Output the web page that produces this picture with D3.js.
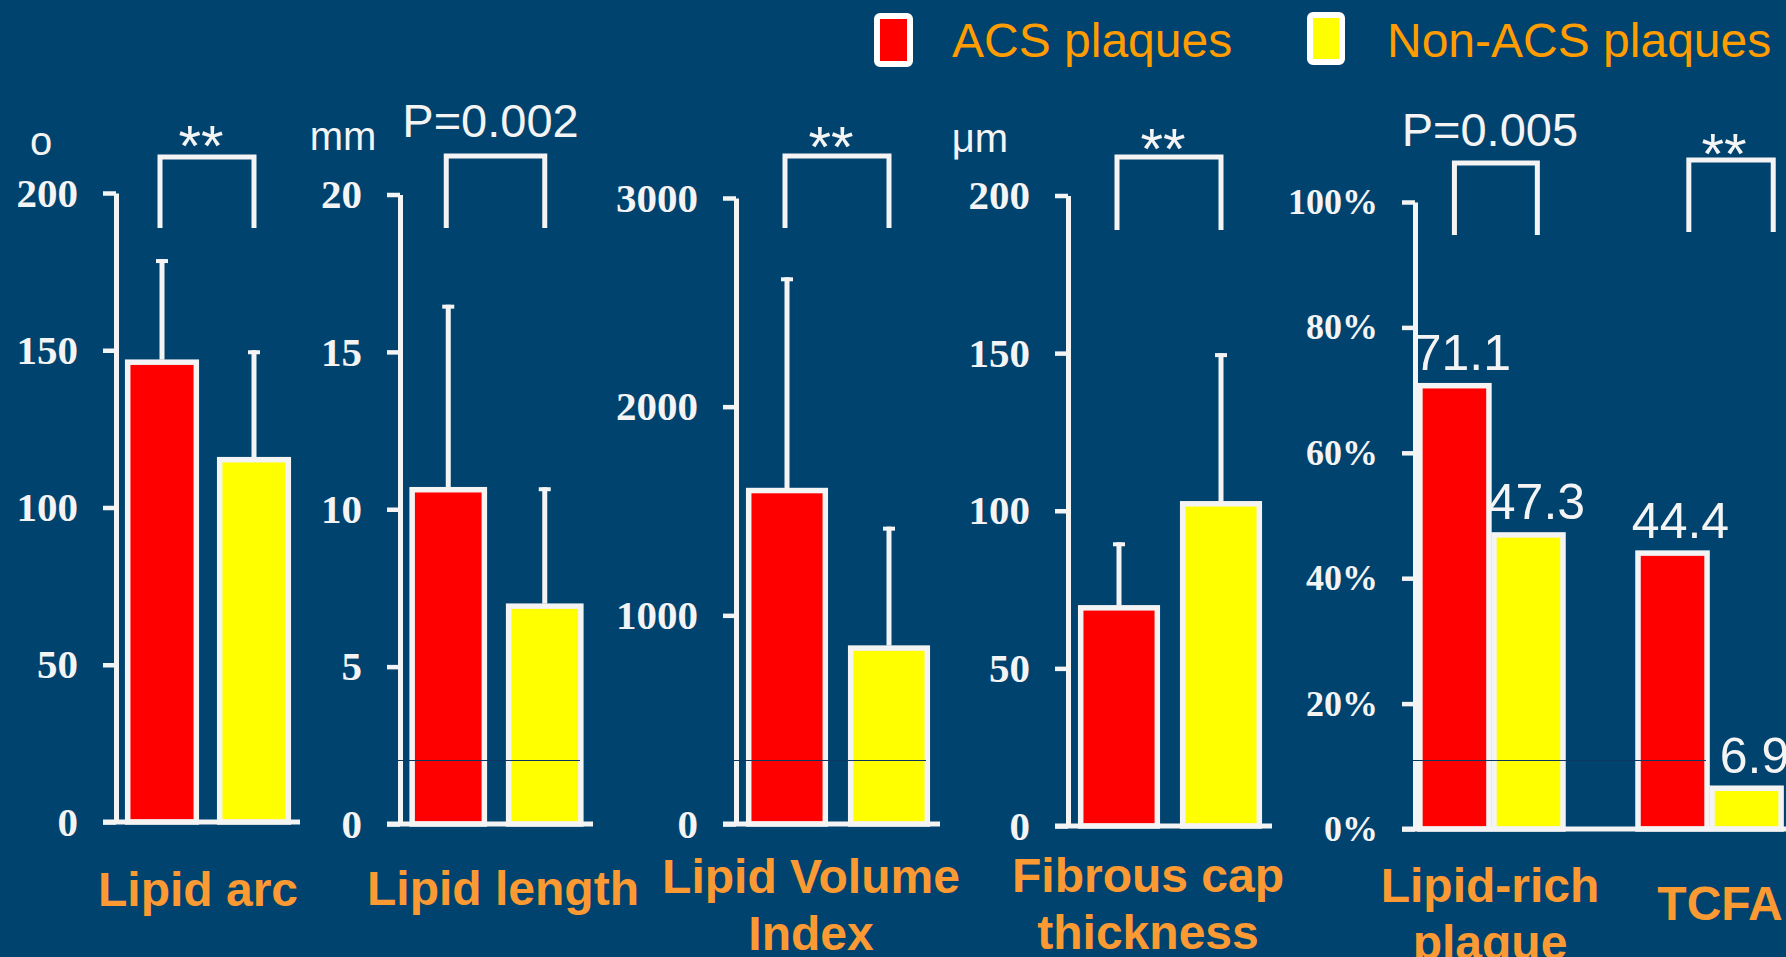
<!DOCTYPE html>
<html>
<head>
<meta charset="utf-8">
<script src="https://cdn.jsdelivr.net/npm/d3@7"></script>
<style>
    html, body { margin: 0; padding: 0; background: #01436f; }
    svg { display: block; }
</style>
</head>
<body>
<svg id="chart" width="1786" height="957"></svg>
<script>
// series and categories
var seriesNames = ['ACS plaques', 'Non-ACS plaques'];
var seriesColors = ['#ff0000', '#ffff00'];

// four continuous measures (mean bars with upper error bar)
var measureLabels = [['Lipid arc'], ['Lipid length'], ['Lipid Volume', 'Index'], ['Fibrous cap', 'thickness']];
var measureUnits = ['o', 'mm', '', 'μm'];
var acsMean = [147, 10.7, 1610, 70];
var acsUpper = [179, 16.5, 2620, 90];
var nonAcsMean = [116, 7.0, 855, 103];
var nonAcsUpper = [150, 10.7, 1425, 150];
var measureMax = [200, 20, 3000, 200];
var measureTicks = [[0, 50, 100, 150, 200], [0, 5, 10, 15, 20], [0, 1000, 2000, 3000], [0, 50, 100, 150, 200]];
var measureSig = ['**', 'P=0.002', '**', '**'];

// prevalence panel (%)
var pctLabels = [['Lipid-rich', 'plaque'], ['TCFA']];
var pctAcs = [71.1, 44.4];
var pctNonAcs = [47.3, 6.9];
var pctTicks = [0, 20, 40, 60, 80, 100];
var pctSig = ['P=0.005', '**'];

var white = '#f4f4f4';
var orange = '#fb9a33';
var sans = '"Liberation Sans", Arial, sans-serif';
var serif = '"Liberation Serif", "Times New Roman", serif';

var svg = d3.select('#chart');

svg.append('rect')
    .attr('width', 1786)
    .attr('height', 957)
    .attr('fill', '#01436f');

// layout of each small panel
var layout = [
    { x0: 116, x1: 300, top: 193, bottom: 822, brTop: 157, brBot: 228, sigY: 166, ux: 41, uy: 155, lx: 198, ly: 906 },
    { x0: 400, x1: 593, top: 194.5, bottom: 824, brTop: 156, brBot: 228, sigY: 137, ux: 343, uy: 150, lx: 503, ly: 905 },
    { x0: 736, x1: 940, top: 198, bottom: 824, brTop: 156, brBot: 228, sigY: 167, ux: 0, uy: 0, lx: 811, ly: 893 },
    { x0: 1068, x1: 1272, top: 195.5, bottom: 826, brTop: 157, brBot: 230, sigY: 169, ux: 980, uy: 152, lx: 1148, ly: 892 }
];

function styleAxis(g, fontSize) {
    g.select('.domain').attr('stroke', white).attr('stroke-width', 5);
    g.selectAll('.tick line').attr('stroke', white).attr('stroke-width', 4.5);
    g.selectAll('.tick text')
        .attr('fill', white)
        .attr('font-family', serif)
        .attr('font-weight', 'bold')
        .attr('font-size', fontSize + 'px');
}

function drawBracket(xl, xr, top, bot) {
    svg.append('path')
        .attr('d', 'M' + xl + ',' + bot + 'V' + top + 'H' + xr + 'V' + bot)
        .attr('fill', 'none')
        .attr('stroke', white)
        .attr('stroke-width', 5);
}

function drawSig(text, cx, y) {
    var isStar = text === '**';
    svg.append('text')
        .attr('x', cx - (isStar ? 7 : 6))
        .attr('y', y)
        .attr('text-anchor', 'middle')
        .attr('fill', white)
        .attr('font-family', sans)
        .attr('font-size', isStar ? '58px' : '47px')
        .text(text);
}

function drawCategory(lines, cx, y) {
    var t = svg.append('text')
        .attr('text-anchor', 'middle')
        .attr('fill', orange)
        .attr('font-family', sans)
        .attr('font-weight', 'bold')
        .attr('font-size', '48px');
    lines.forEach(function(line, i) {
        t.append('tspan').attr('x', cx).attr('y', y + i * 57).text(line);
    });
}

function drawBar(x, w, yTop, yBase, color) {
    svg.append('rect')
        .attr('x', x + 2.5)
        .attr('y', yTop + 2.5)
        .attr('width', w - 5)
        .attr('height', yBase - yTop - 2.5)
        .attr('fill', color)
        .attr('stroke', white)
        .attr('stroke-width', 5.5);
}

// the four measure panels
layout.forEach(function(L, i) {
    var y = d3.scaleLinear().domain([0, measureMax[i]]).range([L.bottom, L.top]);
    var x = d3.scaleBand().domain(seriesNames).range([L.x0, L.x1]).paddingInner(0.2).paddingOuter(0.1);
    var means = [acsMean[i], nonAcsMean[i]];
    var uppers = [acsUpper[i], nonAcsUpper[i]];

    // error bars first so the bar outline covers their foot
    seriesNames.forEach(function(s, j) {
        var cx = x(s) + x.bandwidth() / 2;
        svg.append('line')
            .attr('x1', cx).attr('x2', cx)
            .attr('y1', y(means[j])).attr('y2', y(uppers[j]))
            .attr('stroke', white).attr('stroke-width', 5);
        svg.append('line')
            .attr('x1', cx - 6).attr('x2', cx + 6)
            .attr('y1', y(uppers[j]) + 2).attr('y2', y(uppers[j]) + 2)
            .attr('stroke', white).attr('stroke-width', 4);
    });

    seriesNames.forEach(function(s, j) {
        drawBar(x(s), x.bandwidth(), y(means[j]), y(0), seriesColors[j]);
    });

    var axis = svg.append('g')
        .attr('transform', 'translate(' + L.x0 + ',0)')
        .call(d3.axisLeft(y).tickValues(measureTicks[i]).tickSizeInner(13).tickSizeOuter(0).tickPadding(25).tickFormat(d3.format('d')));
    styleAxis(axis, 41);

    svg.append('line')
        .attr('x1', L.x0 - 13).attr('x2', L.x1)
        .attr('y1', y(0)).attr('y2', y(0))
        .attr('stroke', white).attr('stroke-width', 5);

    var cl = x(seriesNames[0]) + x.bandwidth() / 2;
    var cr = x(seriesNames[1]) + x.bandwidth() / 2;
    drawBracket(cl - 2, cr, L.brTop, L.brBot);
    drawSig(measureSig[i], (cl + cr) / 2, L.sigY);

    if (measureUnits[i]) {
        svg.append('text')
            .attr('x', L.ux).attr('y', L.uy)
            .attr('text-anchor', 'middle')
            .attr('fill', white)
            .attr('font-family', sans)
            .attr('font-size', '40px')
            .text(measureUnits[i]);
    }

    drawCategory(measureLabels[i], L.lx, L.ly);
});

// percentage panel
var pL = { x0: 1415, x1: 1786, top: 202, bottom: 829 };
var yP = d3.scaleLinear().domain([0, 100]).range([pL.bottom, pL.top]);
var xG = d3.scaleBand().domain(pctLabels.map(function(d) { return d.join(' '); }))
    .range([pL.x0, pL.x1]).paddingInner(0.321).paddingOuter(0.011);
var xS = d3.scaleBand().domain(seriesNames).range([0, xG.bandwidth()]);
var pctBrackets = [
    { l: 0.25, r: 0.81, top: 163, bot: 235, sigY: 146, lx: 1490, ly: 902 },
    { l: 0.36, r: 0.93, top: 160, bot: 232, sigY: 174, lx: 1720, ly: 920 }
];

pctLabels.forEach(function(lines, g) {
    var key = lines.join(' ');
    var gx = xG(key);
    var vals = [pctAcs[g], pctNonAcs[g]];
    seriesNames.forEach(function(s, j) {
        drawBar(gx + xS(s), xS.bandwidth(), yP(vals[j]), yP(0), seriesColors[j]);
    });
    seriesNames.forEach(function(s, j) {
        svg.append('text')
            .attr('x', gx + xS(s) + xS.bandwidth() / 2 + 8)
            .attr('y', yP(vals[j]) - 13)
            .attr('text-anchor', 'middle')
            .attr('fill', white)
            .attr('font-family', sans)
            .attr('font-size', '50px')
            .text(d3.format('.1f')(vals[j]));
    });
    var B = pctBrackets[g];
    var bl = gx + B.l * xG.bandwidth();
    var br = gx + B.r * xG.bandwidth();
    drawBracket(bl, br, B.top, B.bot);
    drawSig(pctSig[g], (bl + br) / 2, B.sigY);
    drawCategory(lines, B.lx, B.ly);
});

var pAxis = svg.append('g')
    .attr('transform', 'translate(' + pL.x0 + ',0)')
    .call(d3.axisLeft(yP).tickValues(pctTicks).tickSizeInner(13).tickSizeOuter(0).tickPadding(24).tickFormat(function(d) { return d + '%'; }));
styleAxis(pAxis, 36);

svg.append('line')
    .attr('x1', pL.x0 - 13).attr('x2', pL.x1)
    .attr('y1', yP(0)).attr('y2', yP(0))
    .attr('stroke', white).attr('stroke-width', 5);

// faint scan line visible through some bars in the original slide
[[397, 580], [733, 926], [1413, 1706]].forEach(function(s) {
    svg.append('line')
        .attr('x1', s[0]).attr('x2', s[1])
        .attr('y1', 760.5).attr('y2', 760.5)
        .attr('stroke', '#0c3762').attr('stroke-width', 1);
});

// legend
var legend = svg.append('g');
var legendPos = [{ bx: 877, by: 16, bw: 33, bh: 48, tx: 952 }, { bx: 1310, by: 15, bw: 32, bh: 47, tx: 1387 }];
seriesNames.forEach(function(s, j) {
    var p = legendPos[j];
    legend.append('rect')
        .attr('x', p.bx).attr('y', p.by)
        .attr('width', p.bw).attr('height', p.bh)
        .attr('rx', 3)
        .attr('fill', seriesColors[j])
        .attr('stroke', '#ffffff')
        .attr('stroke-width', 6);
    legend.append('text')
        .attr('x', p.tx).attr('y', 57)
        .attr('fill', '#ff9c00')
        .attr('font-family', sans)
        .attr('font-size', '48px')
        .text(s);
});
</script>
</body>
</html>
